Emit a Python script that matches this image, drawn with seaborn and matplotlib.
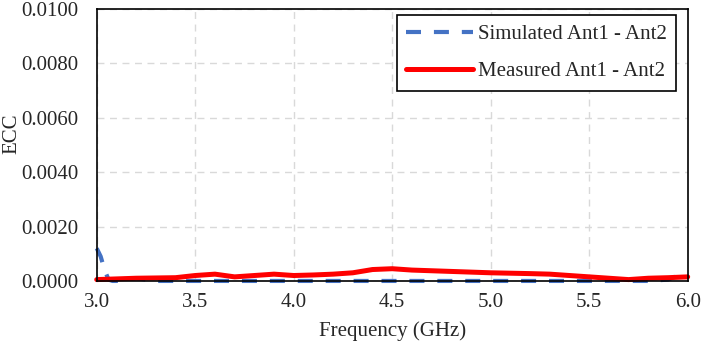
import seaborn as sns
import matplotlib.pyplot as plt
import pandas as pd

# frequency points (GHz) and ECC values
sim_freq = [3.0, 3.02, 3.04, 3.06, 3.08, 3.1, 3.15, 3.2, 3.25, 3.3, 3.4, 3.6, 3.8, 4.0, 4.5, 5.0, 5.5, 5.8, 5.9, 5.95, 6.0]
sim_ecc = [0.0012, 0.0009, 0.0004, 0.00005, 0.0, 0.0, 0.00005, 0.0001, 0.00005, 0.0, 0.0, 0.0, 0.0, 0.0, 0.0, 0.0, 0.0, 0.0, 0.00005, 0.0002, 0.00025]

meas_freq = [3.0, 3.2, 3.4, 3.5, 3.6, 3.7, 3.8, 3.9, 4.0, 4.1, 4.2, 4.3, 4.4, 4.5, 4.6, 4.8, 5.0, 5.2, 5.3, 5.5, 5.6, 5.7, 5.8, 5.9, 6.0]
meas_ecc = [0.00005, 0.0001, 0.00012, 0.0002, 0.00025, 0.00015, 0.0002, 0.00025, 0.0002, 0.00022, 0.00025, 0.0003, 0.00042, 0.00045, 0.0004, 0.00035, 0.0003, 0.00027, 0.00025, 0.00015, 0.0001, 0.00005, 0.0001, 0.00012, 0.00015]

y_ticks = [0.0, 0.002, 0.004, 0.006, 0.008, 0.010]
x_ticks = [3.0, 3.5, 4.0, 4.5, 5.0, 5.5, 6.0]

sim_df = pd.DataFrame({"freq": sim_freq, "ecc": sim_ecc})
meas_df = pd.DataFrame({"freq": meas_freq, "ecc": meas_ecc})

sns.set_style("white")
plt.rcParams['font.family'] = ['Liberation Serif', 'DejaVu Serif']

fig = plt.figure(figsize=(7.01, 3.46), dpi=100)
ax = fig.add_axes([0.138, 0.188, 0.843, 0.786])

sns.lineplot(x="freq", y="ecc", data=sim_df, ax=ax, color="#4472C4", linewidth=3,
             label="Simulated Ant1 - Ant2", linestyle=(0, (3.6, 3.1)))
sns.lineplot(x="freq", y="ecc", data=meas_df, ax=ax, color="#FF0000", linewidth=3.6,
             label="Measured Ant1 - Ant2")
# let the curves sitting on zero show fully, like in the original
for ln in ax.lines:
    ln.set_clip_on(False)

ax.set_xlim(3.0, 6.0)
ax.set_ylim(0, 0.01)
ax.set_xticks(x_ticks)
ax.set_xticklabels([f"{t:.1f}" for t in x_ticks])
ax.set_yticks(y_ticks)
ax.set_yticklabels([f"{t:.4f}" for t in y_ticks])
ax.tick_params(axis="x", labelsize=15, length=0, pad=9)
ax.tick_params(axis="y", labelsize=15, length=0, pad=13)
ax.grid(True, color="#D9D9D9", linestyle=(0, (5, 4)), linewidth=1)
ax.set_axisbelow(True)
for s in ax.spines.values():
    s.set_color("black")
    s.set_linewidth(1.2)
    s.set_zorder(5)

ax.set_xlabel("Frequency (GHz)", fontsize=15, labelpad=6)
ax.set_ylabel("ECC", fontsize=15)
ax.yaxis.set_label_coords(-0.128, 0.54)

leg = ax.legend(loc="upper right", fontsize=15, frameon=True, fancybox=False,
                edgecolor="black", framealpha=1, handlelength=3.2, handletextpad=0.25,
                borderpad=0.45, labelspacing=0.85, borderaxespad=0,
                bbox_to_anchor=(0.981, 0.978))
leg.get_frame().set_linewidth(1.2)
leg.set_zorder(10)

plt.savefig("out.png", dpi=100)
